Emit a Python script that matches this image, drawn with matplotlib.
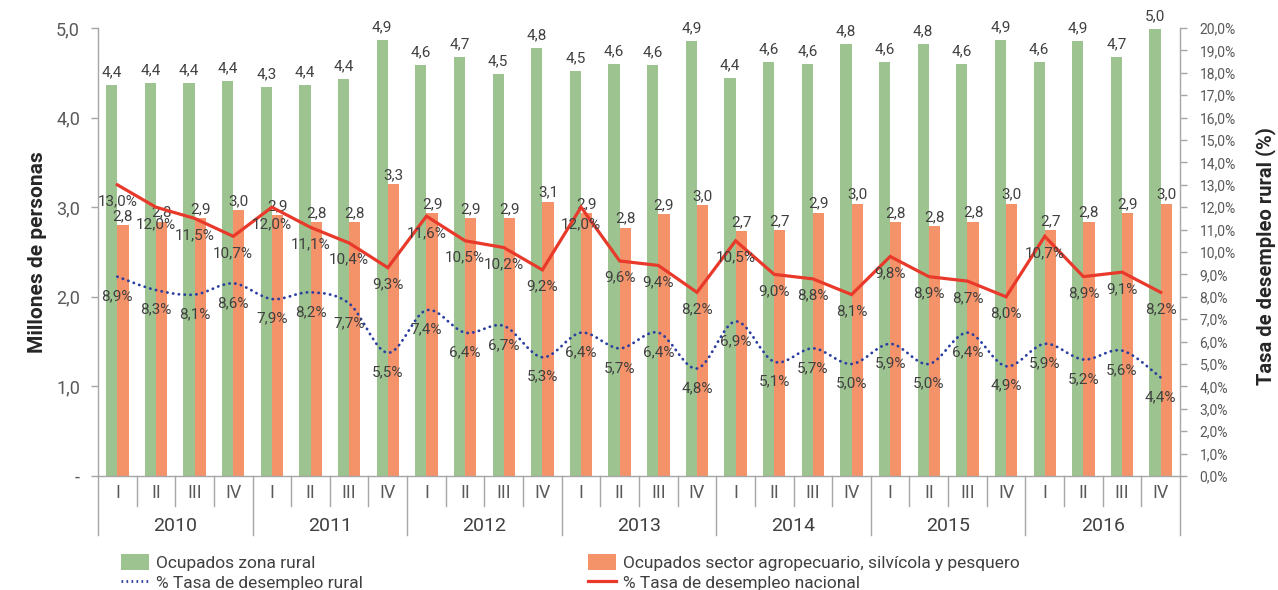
import matplotlib
matplotlib.use("Agg")
import matplotlib.pyplot as plt
from matplotlib import font_manager
from matplotlib.path import Path
from matplotlib.patches import PathPatch
from matplotlib.lines import Line2D
from matplotlib.patches import Patch
import numpy as np

# ---------------- data ----------------
years = ['2010', '2011', '2012', '2013', '2014', '2015', '2016']
quarters = ['I', 'II', 'III', 'IV']

ocupados_rural = [4.36, 4.39, 4.39, 4.41, 4.34, 4.36, 4.43, 4.87,
                  4.59, 4.68, 4.49, 4.78, 4.52, 4.60, 4.59, 4.86,
                  4.44, 4.62, 4.60, 4.82, 4.62, 4.82, 4.60, 4.87,
                  4.62, 4.86, 4.68, 4.99]
ocupados_agro = [2.80, 2.84, 2.88, 2.97, 2.91, 2.83, 2.83, 3.26,
                 2.93, 2.88, 2.88, 3.06, 2.93, 2.77, 2.92, 3.02,
                 2.73, 2.74, 2.94, 3.04, 2.83, 2.79, 2.84, 3.04,
                 2.74, 2.84, 2.93, 3.04]
tasa_nacional = [13.0, 12.0, 11.5, 10.7, 12.0, 11.1, 10.4, 9.3,
                 11.6, 10.5, 10.2, 9.2, 12.0, 9.6, 9.4, 8.2,
                 10.5, 9.0, 8.8, 8.1, 9.8, 8.9, 8.7, 8.0,
                 10.7, 8.9, 9.1, 8.2]
tasa_rural = [8.9, 8.3, 8.1, 8.6, 7.9, 8.2, 7.7, 5.5,
              7.4, 6.4, 6.7, 5.3, 6.4, 5.7, 6.4, 4.8,
              6.9, 5.1, 5.7, 5.0, 5.9, 5.0, 6.4, 4.9,
              5.9, 5.2, 5.6, 4.4]
left_ticks = [0, 1, 2, 3, 4, 5]
right_ticks = list(range(0, 21))

legend_labels = ['Ocupados zona rural',
                 'Ocupados sector agropecuario, silvícola y pesquero',
                 '% Tasa de desempleo rural',
                 '% Tasa de desempleo nacional']

# ---------------- style ----------------
names = {f.name for f in font_manager.fontManager.ttflist}
FONT = 'Liberation Sans Narrow' if 'Liberation Sans Narrow' in names else 'Roboto'
plt.rcParams['font.family'] = [FONT, 'DejaVu Sans']

GREEN = '#9dc391'
ORANGE = '#f4926a'
RED = '#e8392b'
BLUE = '#2a3ea0'
TXT = '#404040'
AXC = '#a6a6a6'

def fmt(v, pct=False):
    s = f"{v:.1f}".replace('.', ',')
    return s + '%' if pct else s

W, H = 1278, 590
fig = plt.figure(figsize=(W / 100, H / 100), dpi=100)
L, R, T, B = 98, 1180, 28, 476
ax = fig.add_axes([L / W, 1 - B / H, (R - L) / W, (B - T) / H])
ax2 = ax.twinx()

n = len(ocupados_rural)
x = np.arange(n)
bw = 0.29

ax.bar(x - bw / 2, ocupados_rural, width=bw, color=GREEN, zorder=2)
ax.bar(x + bw / 2, ocupados_agro, width=bw, color=ORANGE, zorder=2)

ax.set_xlim(-0.5, n - 0.5)
ax.set_ylim(0, 5)
ax2.set_ylim(0, 20)

# bar labels
for i in range(n):
    ax.annotate(fmt(ocupados_rural[i]), (x[i] - bw / 2, ocupados_rural[i]),
                xytext=(0, 4), textcoords='offset points', ha='center', va='bottom',
                fontsize=11, color=TXT, zorder=5)
    ax.annotate(fmt(ocupados_agro[i]), (x[i] + bw / 2, ocupados_agro[i]),
                xytext=(0, 1.5), textcoords='offset points', ha='center', va='bottom',
                fontsize=11, color=TXT, zorder=5)

# national line
ax2.plot(x, tasa_nacional, color=RED, lw=2.3, zorder=3, solid_joinstyle='miter')

# rural smoothed dotted line (cubic bezier through data points)
pts = np.column_stack([x, tasa_rural]).astype(float)
verts = [tuple(pts[0])]
codes = [Path.MOVETO]
for i in range(n - 1):
    p0 = pts[i - 1] if i > 0 else pts[i]
    p1 = pts[i]
    p2 = pts[i + 1]
    p3 = pts[i + 2] if i + 2 < n else pts[i + 1]
    c1 = p1 + (p2 - p0) / 6.0
    c2 = p2 - (p3 - p1) / 6.0
    verts += [tuple(c1), tuple(c2), tuple(p2)]
    codes += [Path.CURVE4] * 3
patch = PathPatch(Path(verts, codes), facecolor='none', edgecolor=BLUE, lw=2.0,
                  linestyle=(0, (0.1, 2.0)), capstyle='round', transform=ax2.transData,
                  zorder=3)
ax2.add_patch(patch)

for i in range(n):
    ax2.annotate(fmt(tasa_nacional[i], True), (x[i], tasa_nacional[i]),
                 xytext=(0, -7), textcoords='offset points', ha='center', va='top',
                 fontsize=11, color=TXT, zorder=6)
    ax2.annotate(fmt(tasa_rural[i], True), (x[i], tasa_rural[i]),
                 xytext=(0, -9), textcoords='offset points', ha='center', va='top',
                 fontsize=11, color=TXT, zorder=6)

# axes styling
for a in (ax, ax2):
    a.spines['top'].set_visible(False)
    for s in ('left', 'right', 'bottom'):
        a.spines[s].set_color(AXC)
        a.spines[s].set_linewidth(1.0)
ax.spines['right'].set_visible(False)
ax2.spines['left'].set_visible(False)
ax2.spines['bottom'].set_visible(False)

ax.set_yticks(left_ticks)
ax.set_yticklabels(['-' if v == 0 else fmt(v) for v in left_ticks])
ax.tick_params(axis='y', colors=AXC, labelcolor='#595959', labelsize=13,
               length=5, width=1, pad=8)
ax2.set_yticks(right_ticks)
ax2.set_yticklabels([fmt(v, True) for v in right_ticks])
ax2.tick_params(axis='y', colors=AXC, labelcolor='#595959', labelsize=10,
                length=5, width=1, pad=9)
ax.set_xticks([])

ax.set_ylabel('Millones de personas', fontsize=15, fontweight='bold', color='#262626')
ax.yaxis.set_label_coords(-0.047, 0.5)
ax2.set_ylabel('Tasa de desempleo rural (%)', fontsize=14.5, fontweight='bold',
               color='#262626')
ax2.yaxis.set_label_coords(1.0695, 0.49)

# category axis (quarters + years)
tr = ax.get_xaxis_transform()
ph = B - T
q_y = -17 / ph
q_sep = -30 / ph
y_sep = -59 / ph
yr_y = -50 / ph
for i in range(n):
    ax.text(x[i], q_y, quarters[i % 4], transform=tr, ha='center', va='center',
            fontsize=13, color='#595959')
for k in range(n + 1):
    bottom = y_sep if k % 4 == 0 else q_sep
    ax.plot([k - 0.5, k - 0.5], [0, bottom], transform=tr, color=AXC, lw=1,
            clip_on=False)
for j, yr in enumerate(years):
    ax.text(4 * j + 1.5, yr_y, yr, transform=tr, ha='center', va='center',
            fontsize=14, color=TXT)

# legend
handles = [Patch(facecolor=GREEN), Patch(facecolor=ORANGE),
           Line2D([], [], color=BLUE, lw=2, linestyle=(0, (0.6, 1.2))),
           Line2D([], [], color=RED, lw=2.3)]
order = [0, 2, 1, 3]
fig.legend([handles[i] for i in order], [legend_labels[i] for i in order],
           loc='upper left', bbox_to_anchor=(121 / W, 1 - 554 / H), ncol=2,
           frameon=False, fontsize=12.5, labelcolor=TXT, handlelength=1.6,
           handleheight=1.0, handletextpad=0.4, columnspacing=13.0,
           labelspacing=0.2, borderaxespad=0, borderpad=0)

fig.savefig('out.png', dpi=100)
